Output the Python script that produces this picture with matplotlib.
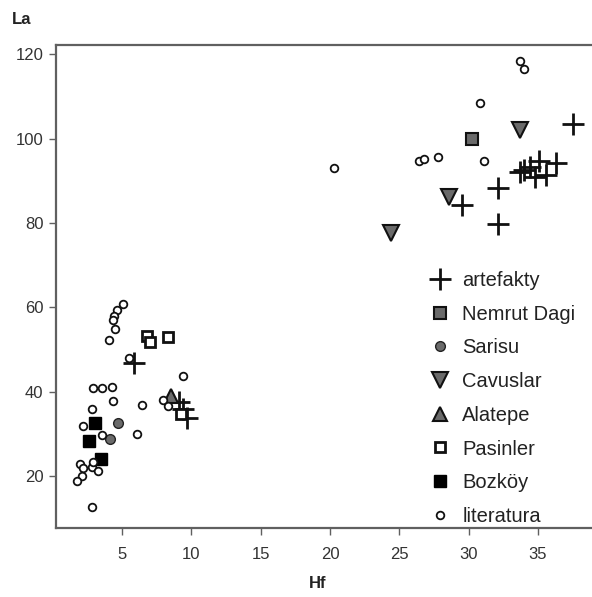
import matplotlib.pyplot as plt

plt.rcParams['font.family'] = ['Liberation Sans', 'DejaVu Sans']

# values (Hf, La)
artefakty_hf = [37.5, 32.1, 29.5, 32.1, 33.7, 34.4, 35.1, 36.3, 34.8, 35.6, 34.0,
                5.86, 9.13, 9.42, 9.66]
artefakty_la = [103.5, 88.4, 84.3, 79.7, 92.2, 93.3, 94.8, 94.3, 91.0, 91.4, 92.6,
                46.7, 37.6, 36.0, 33.7]

nemrut_hf = [30.25]
nemrut_la = [100.0]

sarisu_hf = [4.73, 4.13]
sarisu_la = [32.6, 28.8]

cavuslar_hf = [33.7, 28.55, 24.4]
cavuslar_la = [102.0, 86.2, 77.7]

alatepe_hf = [8.51]
alatepe_la = [39.0]

pasinler_hf = [6.82, 7.0, 8.34, 9.23]
pasinler_la = [53.2, 51.8, 52.9, 34.8]

bozkoy_hf = [3.05, 2.64, 3.46]
bozkoy_la = [32.5, 28.3, 24.0]

literatura_hf = [33.7, 34.0, 30.8, 20.3, 26.4, 26.8, 27.8, 31.1,
                 5.05, 4.66, 4.44, 4.37, 4.49, 4.06, 5.52,
                 2.93, 3.53, 4.25, 9.42, 4.33, 6.42, 7.93, 8.34, 2.86, 2.21,
                 3.53, 6.1, 1.97, 2.21, 2.81, 2.93, 3.29, 2.09, 1.73, 2.86]
literatura_la = [118.5, 116.5, 108.5, 93.1, 94.6, 95.1, 95.7, 94.8,
                 60.8, 59.4, 57.9, 57.0, 54.8, 52.3, 47.9,
                 40.8, 40.8, 41.0, 43.7, 37.9, 36.8, 38.0, 36.6, 35.8, 31.9,
                 29.7, 29.9, 22.8, 21.8, 22.2, 23.4, 21.2, 20.0, 18.9, 12.7]

fig = plt.figure(figsize=(5.92, 5.97), dpi=100)
ax = fig.add_axes([56 / 592, 69 / 597, 536 / 592, 483 / 597])

gray = '#6a6a6a'
ax.plot(artefakty_hf, artefakty_la, ls='none', marker='+', ms=16, mew=2,
        color='#111111', label='artefakty')
ax.plot(nemrut_hf, nemrut_la, ls='none', marker='s', ms=8, mew=1.5,
        mfc=gray, mec='#111111', label='Nemrut Dagi')
ax.plot(sarisu_hf, sarisu_la, ls='none', marker='o', ms=7, mew=1,
        mfc=gray, mec='#222222', label='Sarisu')
ax.plot(cavuslar_hf, cavuslar_la, ls='none', marker='v', ms=11, mew=1.5,
        mfc=gray, mec='#111111', label='Cavuslar')
ax.plot(alatepe_hf, alatepe_la, ls='none', marker='^', ms=10, mew=1.5,
        mfc=gray, mec='#111111', label='Alatepe')
ax.plot(pasinler_hf, pasinler_la, ls='none', marker='s', ms=7.5, mew=2,
        mfc='white', mec='#111111', label='Pasinler')
ax.plot(bozkoy_hf, bozkoy_la, ls='none', marker='s', ms=9, mew=1,
        mfc='black', mec='black', label='Bozköy')
ax.plot(literatura_hf, literatura_la, ls='none', marker='o', ms=5.5, mew=1.3,
        mfc='white', mec='#111111', label='literatura')

ax.set_xlim(0.24, 38.9)
ax.set_ylim(7.67, 122.2)
ax.set_xticks([5, 10, 15, 20, 25, 30, 35])
ax.set_yticks([20, 40, 60, 80, 100, 120])

for s in ['left', 'bottom', 'top']:
    ax.spines[s].set_color('#606060')
    ax.spines[s].set_linewidth(1.6)
ax.spines['right'].set_visible(False)
ax.tick_params(direction='out', length=5, width=1, color='#606060',
               labelsize=12, labelcolor='#333333', pad=4)
ax.tick_params(axis='x', pad=9)

fig.text(22 / 592, 1 - 20 / 597, 'La', fontsize=12, fontweight='bold',
         ha='center', va='center', color='#222222')
fig.text(318 / 592, 1 - 583 / 597, 'Hf', fontsize=12, fontweight='bold',
         ha='center', va='center', color='#222222')

ax.legend(loc='upper left', bbox_to_anchor=(430 / 592, 1 - 271 / 597),
          bbox_transform=fig.transFigure, frameon=False, fontsize=14.5,
          borderpad=0, borderaxespad=0, handlelength=1.0, handletextpad=0.6,
          labelspacing=0.73, numpoints=1, labelcolor='#222222')

fig.savefig('out.png', dpi=100)
